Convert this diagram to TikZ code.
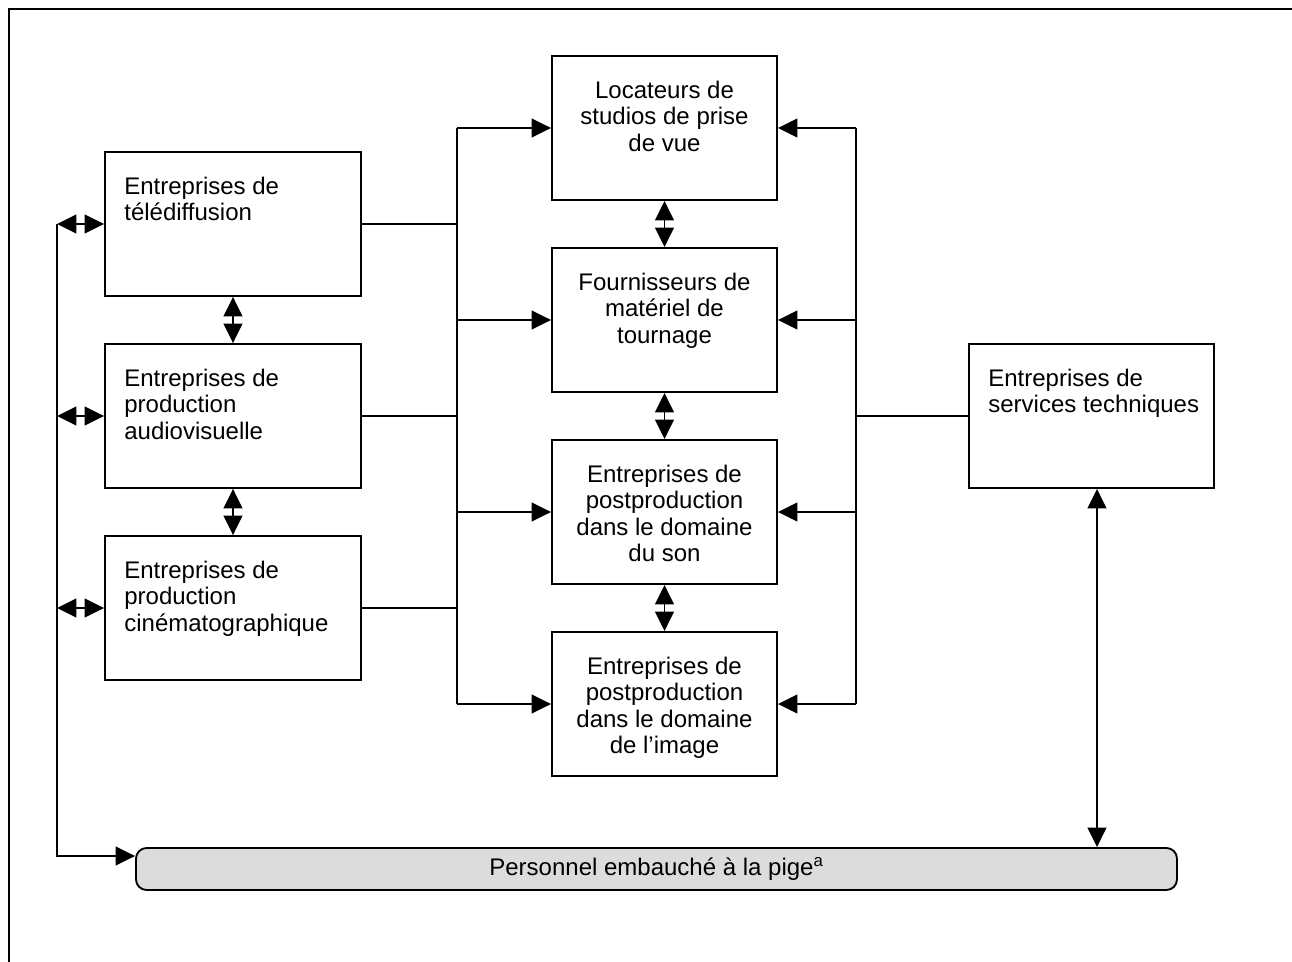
\documentclass[tikz,border=0pt]{standalone}
\usepackage{fontspec}
\setmainfont{Liberation Sans}
\usetikzlibrary{arrows.meta}
\definecolor{pigefill}{HTML}{DCDCDC}
\tikzset{
  box/.style={draw, line width=1.4pt, inner sep=0pt, fill=white},
  lbox/.style={box, minimum width=192pt, minimum height=108pt},
  mbox/.style={box, minimum width=168.75pt, minimum height=108pt},
  rbox/.style={box, minimum width=183.75pt, minimum height=108pt},
  pigebox/.style={draw, line width=1.4pt, fill=pigefill, rounded corners=8pt,
    minimum width=780.75pt, minimum height=31.5pt, inner sep=0pt,
    font=\fontsize{18}{20}\selectfont},
  ltext/.style={anchor=north west, align=left, inner sep=0pt,
    font=\fontsize{18}{19.9}\selectfont},
  ctext/.style={anchor=north, align=center, inner sep=0pt,
    font=\fontsize{18}{19.9}\selectfont},
  conn/.style={line width=1.4pt},
  arr/.style={conn, -{Triangle[length=14.5pt,width=14pt]}},
  darr/.style={conn, {Triangle[length=14.5pt,width=14pt]}-{Triangle[length=14.5pt,width=14pt]}},
}
\begin{document}
\begin{tikzpicture}[x=0.75pt,y=-0.75pt]
\useasboundingbox (0,0) rectangle (1292,962);
% outer frame
\draw[line width=1.6pt] (9,962) -- (9,9) -- (1292,9);

% bus positions
\coordinate (lb-top) at (57,224);
\coordinate (lb-bot) at (57,856);
\coordinate (cb-top) at (457,128);
\coordinate (cb-bot) at (457,704);
\coordinate (rb-top) at (856,128);
\coordinate (rb-bot) at (856,704);
\coordinate (px) at (1097,600);

% left column
\node[lbox] (tv) at (233,224) {};
\node[lbox] (av) at (233,416) {};
\node[lbox] (cine) at (233,608) {};
\node[ltext] (tv-t) at ([shift={(20,25.5)}]tv.north west) {Entreprises de\\télédiffusion};
\node[ltext] (av-t) at ([shift={(20,25.5)}]av.north west) {Entreprises de\\production\\audiovisuelle};
\node[ltext] (cine-t) at ([shift={(20,25.5)}]cine.north west) {Entreprises de\\production\\cinématographique};

% middle column
\node[mbox] (loc) at (664.5,128) {};
\node[mbox] (mat) at (664.5,320) {};
\node[mbox] (son) at (664.5,512) {};
\node[mbox] (img) at (664.5,704) {};
\node[ctext] (loc-t) at ([shift={(0,25.5)}]loc.north) {Locateurs de\\studios de prise\\de vue};
\node[ctext] (mat-t) at ([shift={(0,25.5)}]mat.north) {Fournisseurs de\\matériel de\\tournage};
\node[ctext] (son-t) at ([shift={(0,25.5)}]son.north) {Entreprises de\\postproduction\\dans le domaine\\du son};
\node[ctext] (img-t) at ([shift={(0,25.5)}]img.north) {Entreprises de\\postproduction\\dans le domaine\\de l’image};

% right column
\node[rbox] (svc) at (1091.5,416) {};
\node[ltext] (svc-t) at ([shift={(20,25.5)}]svc.north west) {Entreprises de\\services techniques};

% freelance staff
\node[pigebox] (pige) at (656.5,869) {Personnel embauché à la pige\textsuperscript{a}};

% links between neighbouring boxes
\draw[darr] (tv.south) -- (av.north);
\draw[darr] (av.south) -- (cine.north);
\draw[darr] (loc.south) -- (mat.north);
\draw[darr] (mat.south) -- (son.north);
\draw[darr] (son.south) -- (img.north);

% left bus
\draw[arr] (lb-top) -- (lb-bot) -- (lb-bot -| pige.west);
\draw[darr] (tv.west -| lb-top) -- (tv.west);
\draw[darr] (av.west -| lb-top) -- (av.west);
\draw[darr] (cine.west -| lb-top) -- (cine.west);

% central bus
\draw[conn] (cb-top) -- (cb-bot);
\draw[conn] (tv.east) -- (tv.east -| cb-top);
\draw[conn] (av.east) -- (av.east -| cb-top);
\draw[conn] (cine.east) -- (cine.east -| cb-top);
\draw[arr] (loc.west -| cb-top) -- (loc.west);
\draw[arr] (mat.west -| cb-top) -- (mat.west);
\draw[arr] (son.west -| cb-top) -- (son.west);
\draw[arr] (img.west -| cb-top) -- (img.west);

% right bus
\draw[conn] (rb-top) -- (rb-bot);
\draw[conn] (svc.west) -- (svc.west -| rb-top);
\draw[arr] (loc.east -| rb-top) -- (loc.east);
\draw[arr] (mat.east -| rb-top) -- (mat.east);
\draw[arr] (son.east -| rb-top) -- (son.east);
\draw[arr] (img.east -| rb-top) -- (img.east);

% technical services to freelance staff
\draw[darr] (svc.south -| px) -- (pige.north -| px);
\end{tikzpicture}
\end{document}
